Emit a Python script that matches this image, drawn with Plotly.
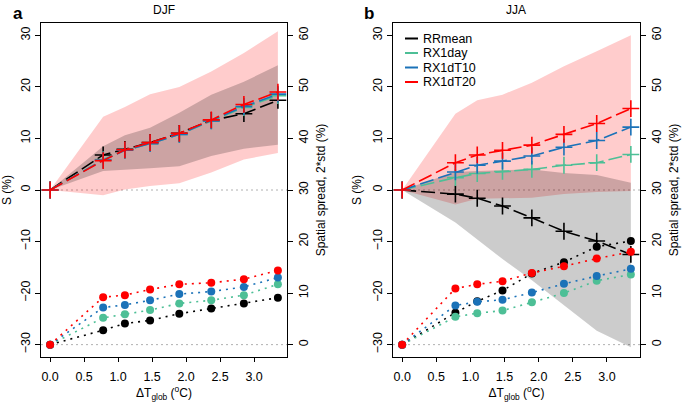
import plotly.graph_objects as go

# ---------------- data ----------------
dT = [0, 0.78, 1.1, 1.47, 1.9, 2.37, 2.85, 3.35]
series = ["RRmean", "RX1day", "RX1dT10", "RX1dT20"]
colors = {"RRmean": "#000000", "RX1day": "#4dbf96", "RX1dT10": "#1b72b8", "RX1dT20": "#ff0000"}

# S (%) - left axis
djf_S = {
    "RRmean":  [0, 6.8, 7.9, 9.2, 11.0, 13.5, 14.8, 17.4],
    "RX1day":  [0, 5.9, 7.7, 9.0, 10.8, 13.4, 16.0, 18.3],
    "RX1dT10": [0, 5.8, 7.7, 9.0, 10.8, 13.4, 16.2, 18.6],
    "RX1dT20": [0, 5.7, 7.8, 9.2, 11.0, 13.6, 16.6, 19.0],
}
jja_S = {
    "RRmean":  [0, -0.8, -1.6, -3.1, -5.4, -8.0, -9.9, -12.5],
    "RX1day":  [0, 2.4, 3.2, 3.6, 4.0, 4.8, 5.3, 6.9],
    "RX1dT10": [0, 3.5, 4.8, 5.6, 6.6, 8.3, 9.6, 12.2],
    "RX1dT20": [0, 5.3, 6.8, 7.7, 8.7, 10.8, 12.9, 15.8],
}
# Spatial spread, 2*std (%) - right axis
djf_spread = {
    "RRmean":  [0, 2.8, 4.1, 4.7, 6.0, 7.0, 8.0, 9.1],
    "RX1day":  [0, 5.2, 5.9, 6.7, 8.0, 8.6, 9.6, 11.7],
    "RX1dT10": [0, 7.2, 7.7, 8.6, 9.8, 10.3, 11.2, 13.0],
    "RX1dT20": [0, 9.2, 9.6, 10.7, 11.7, 12.0, 12.7, 14.4],
}
jja_spread = {
    "RRmean":  [0, 6.2, 8.4, 10.5, 13.8, 16.0, 19.0, 20.1],
    "RX1day":  [0, 5.4, 6.1, 6.6, 8.2, 10.0, 12.4, 13.6],
    "RX1dT10": [0, 7.6, 8.3, 8.7, 10.1, 11.8, 13.3, 14.7],
    "RX1dT20": [0, 10.9, 11.7, 12.3, 13.9, 15.2, 16.7, 18.0],
}
# shaded spread bands (S units)
djf_red_hi = [0, 14.2, 16.1, 18.6, 20.0, 23.0, 26.6, 30.8]
djf_red_lo = [0, -1.0, 0.1, 0.8, 1.3, 3.4, 5.9, 7.2]
djf_blk_hi = [0, 8.5, 10.6, 12.1, 15.0, 18.5, 21.0, 24.2]
djf_blk_lo = [0, 3.7, 3.9, 4.2, 4.6, 6.6, 8.0, 8.8]
jja_red_hi = [0, 14.8, 17.4, 18.5, 20.8, 24.0, 26.9, 30.0]
jja_red_lo = [0, -2.8, -1.7, -1.6, -1.5, -0.8, -0.4, -0.2]
jja_blk_hi = [0, 3.5, 3.7, 3.8, 4.0, 3.3, 2.9, 1.4]
jja_blk_lo = [0, -6.3, -9.5, -13.4, -17.5, -22.4, -27.3, -30.5]

x_ticks = [0, 0.5, 1.0, 1.5, 2.0, 2.5, 3.0]
s_ticks = [-30, -20, -10, 0, 10, 20, 30]
sp_ticks = [0, 10, 20, 30, 40, 50, 60]

W, H = 685, 402
FONT = "Liberation Sans, Arial, Helvetica, sans-serif"

fig = go.Figure()

def add_panel(xa, ya, ya2, S, spread, red_hi, red_lo, blk_hi, blk_lo):
    # bands
    for hi, lo, col in [(red_hi, red_lo, "rgba(255,0,0,0.2)"), (blk_hi, blk_lo, "rgba(0,0,0,0.2)")]:
        fig.add_trace(go.Scatter(x=dT + dT[::-1], y=hi + lo[::-1], fill="toself", fillcolor=col,
                                 line=dict(width=0), mode="lines", hoverinfo="skip",
                                 showlegend=False, xaxis=xa, yaxis=ya))
    # S lines
    for s in series:
        fig.add_trace(go.Scatter(x=dT, y=S[s], mode="lines+markers",
                                 line=dict(color=colors[s], width=1.6, dash="14px,5px"),
                                 marker=dict(symbol="cross-thin", size=12,
                                             line=dict(color=colors[s], width=1.6)),
                                 showlegend=False, xaxis=xa, yaxis=ya))
    # spread dots
    for s in series:
        fig.add_trace(go.Scatter(x=dT, y=spread[s], mode="lines+markers",
                                 line=dict(color=colors[s], width=1.6, dash="2px,5px"),
                                 marker=dict(symbol="circle", size=8, color=colors[s]),
                                 showlegend=False, xaxis=xa, yaxis=ya2))

add_panel("x", "y", "y2", djf_S, djf_spread, djf_red_hi, djf_red_lo, djf_blk_hi, djf_blk_lo)
add_panel("x2", "y3", "y4", jja_S, jja_spread, jja_red_hi, jja_red_lo, jja_blk_hi, jja_blk_lo)

tickfont = dict(family=FONT, size=12.5, color="black")
ydom = [1 - 357 / H, 1 - 23 / H]
xdomA = [41 / W, 287 / W]
xdomB = [393 / W, 640 / W]
xr = [-0.134, 3.484]
yr = [-32.4, 32.4]
yr2 = [yr[0] + 30, yr[1] + 30]

def xaxis(dom, anchor):
    return dict(domain=dom, range=xr, tickvals=x_ticks, tickformat=".1f", anchor=anchor,
                showline=True, mirror=True, linecolor="black", linewidth=1,
                ticks="outside", ticklen=4, tickcolor="black", showgrid=False, zeroline=False,
                tickfont=tickfont, automargin=False, ticklabelstandoff=4,
                title=dict(text="ΔT<sub>glob</sub> (<sup>o</sup>C)", font=dict(family=FONT, size=12), standoff=3))

def yleft(anchor):
    return dict(domain=ydom, range=yr, tickvals=s_ticks, tickangle=-90, anchor=anchor,
                showline=True, mirror=True, linecolor="black", linewidth=1,
                ticks="outside", ticklen=5, tickcolor="black", showgrid=False, zeroline=False,
                tickfont=tickfont, automargin=False,
                title=dict(text="S (%)", font=dict(family=FONT, size=12), standoff=6))

def yright(over, anchor):
    return dict(overlaying=over, side="right", range=yr2, tickvals=sp_ticks, tickangle=-90,
                anchor=anchor, showline=True, linecolor="black", linewidth=1,
                ticks="outside", ticklen=5, tickcolor="black", showgrid=False, zeroline=False,
                tickfont=tickfont, automargin=False,
                title=dict(text="Spatial spread, 2*std (%)", font=dict(family=FONT, size=12), standoff=6))

# reference dotted lines at S=0 and S=-30
shapes = []
for xref, yref in [("x", "y"), ("x2", "y3")]:
    for yv in [0, -30]:
        shapes.append(dict(type="line", xref=xref, yref=yref, x0=xr[0], x1=xr[1], y0=yv, y1=yv,
                           line=dict(color="#b0b0b0", width=1, dash="2px,3px"), layer="below"))

# legend (panel b)
legend_y = [38.5, 53, 67.5, 82]
annotations = []
for s, yy in zip(series, legend_y):
    shapes.append(dict(type="line", xref="paper", yref="paper", x0=405 / W, x1=418 / W,
                       y0=1 - yy / H, y1=1 - yy / H, line=dict(color=colors[s], width=2)))
    annotations.append(dict(text=s, xref="paper", yref="paper", x=421 / W, y=1 - yy / H,
                            xanchor="left", yanchor="middle", showarrow=False,
                            font=dict(family=FONT, size=12.5, color="black")))

# titles & panel letters
annotations += [
    dict(text="DJF", xref="paper", yref="paper", x=164 / W, y=1 - 10 / H, showarrow=False,
         xanchor="center", yanchor="middle", font=dict(family=FONT, size=12, color="black")),
    dict(text="JJA", xref="paper", yref="paper", x=516 / W, y=1 - 10 / H, showarrow=False,
         xanchor="center", yanchor="middle", font=dict(family=FONT, size=12, color="black")),
    dict(text="<b>a</b>", xref="paper", yref="paper", x=18 / W, y=1 - 13 / H, showarrow=False,
         xanchor="center", yanchor="middle", font=dict(family=FONT, size=17, color="black")),
    dict(text="<b>b</b>", xref="paper", yref="paper", x=369 / W, y=1 - 13 / H, showarrow=False,
         xanchor="center", yanchor="middle", font=dict(family=FONT, size=17, color="black")),
]

fig.update_layout(
    width=W, height=H, margin=dict(l=0, r=0, t=0, b=0),
    paper_bgcolor="white", plot_bgcolor="white",
    font=dict(family=FONT, color="black"),
    xaxis=xaxis(xdomA, "y"), xaxis2=xaxis(xdomB, "y3"),
    yaxis=yleft("x"), yaxis2=yright("y", "x"),
    yaxis3=yleft("x2"), yaxis4=yright("y3", "x2"),
    shapes=shapes, annotations=annotations, showlegend=False,
)

fig.write_html("out.html", config={"displayModeBar": False},
               post_script="document.body.style.margin='0';document.body.style.padding='0';")
